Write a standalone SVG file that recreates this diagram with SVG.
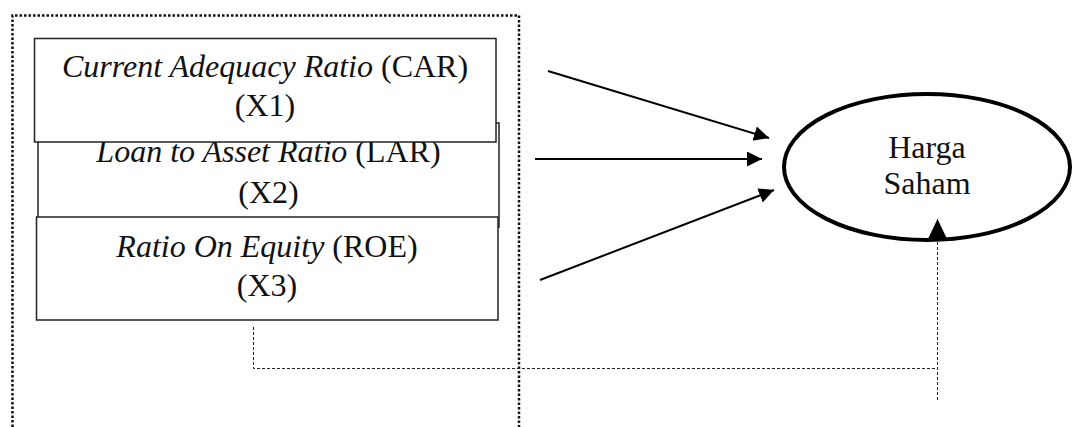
<svg xmlns="http://www.w3.org/2000/svg" width="1075" height="427" viewBox="0 0 1075 427">
  <style>
    .box { fill: #fff; stroke: #222; stroke-width: 1.5; }
    .lbl { font-family: "Liberation Serif", "Times New Roman", serif; font-size: 32px; fill: #111; text-anchor: middle; }
    .it { font-style: italic; }
    .arrow { stroke: #000; stroke-width: 2; fill: none; marker-end: url(#head); }
    .dash { stroke: #222; stroke-width: 1; fill: none; stroke-dasharray: 3 2; }
    .frame { stroke: #111; stroke-width: 2.5; fill: none; stroke-dasharray: 2.5 2; }
  </style>
  <defs>
    <marker id="head" markerUnits="userSpaceOnUse" markerWidth="16" markerHeight="16" refX="15" refY="7.5" orient="auto">
      <path d="M0,0 L15,7.5 L0,15 Z" fill="#000"/>
    </marker>
    <marker id="headBig" markerUnits="userSpaceOnUse" markerWidth="24" markerHeight="22" refX="22" refY="10.5" orient="auto">
      <path d="M0,0 L22,10.5 L0,21 Z" fill="#000"/>
    </marker>
  </defs>

  <rect width="1075" height="427" fill="#fff"/>

  <!-- dotted frame around the independent variables -->
  <path class="frame" d="M12.5,427 V15.5 H519 V427"/>

  <!-- X2 sits behind X1 and X3 -->
  <g id="node-lar">
    <rect class="box" x="38" y="123" width="461" height="104"/>
    <text class="lbl" x="268.5" y="162"><tspan class="it">Loan to Asset Ratio</tspan> (LAR)</text>
    <text class="lbl" x="268.5" y="203">(X2)</text>
  </g>

  <g id="node-car">
    <rect class="box" x="34.5" y="38.5" width="461.5" height="103.5"/>
    <text class="lbl" x="265" y="77"><tspan class="it">Current Adequacy Ratio</tspan> (CAR)</text>
    <text class="lbl" x="265" y="116">(X1)</text>
  </g>

  <g id="node-roe">
    <rect class="box" x="36.5" y="217" width="461.5" height="103"/>
    <text class="lbl" x="267" y="257"><tspan class="it">Ratio On Equity</tspan> (ROE)</text>
    <text class="lbl" x="267" y="296">(X3)</text>
  </g>

  <g id="node-harga-saham">
    <ellipse cx="927" cy="167" rx="143" ry="73" fill="#fff" stroke="#000" stroke-width="4"/>
    <text class="lbl" x="927" y="158">Harga</text>
    <text class="lbl" x="927" y="194">Saham</text>
  </g>

  <g id="connectors">
    <line class="arrow" x1="548" y1="71" x2="769" y2="138"/>
    <line class="arrow" x1="535" y1="159" x2="762" y2="159"/>
    <line class="arrow" x1="540" y1="280" x2="774" y2="190"/>
    <polyline class="dash" points="253.5,327 253.5,368.5 937.5,368.5"/>
    <line class="dash" x1="937.5" y1="400" x2="937.5" y2="219" marker-end="url(#headBig)"/>
  </g>
</svg>
